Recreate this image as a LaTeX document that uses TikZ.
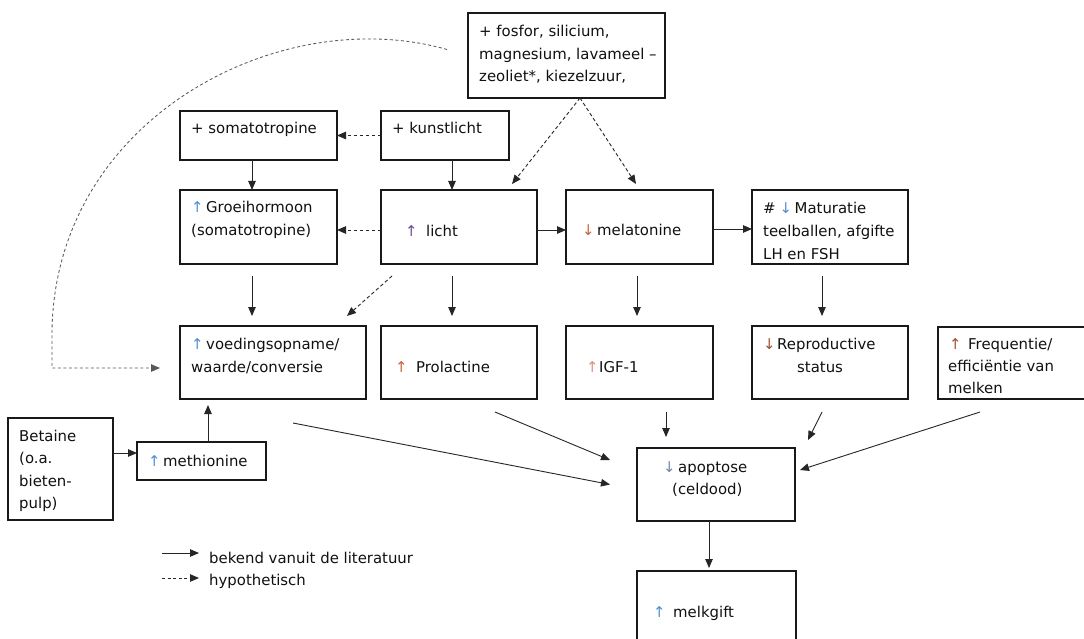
\documentclass[tikz,border=0pt]{standalone}
\usepackage{fontspec}
\setmainfont{DejaVu Sans}
\usetikzlibrary{arrows.meta}
\definecolor{textc}{HTML}{111111}
\definecolor{cblue}{HTML}{4F8FD0}
\definecolor{cpurple}{HTML}{6A4C9C}
\definecolor{corange}{HTML}{C8643C}
\definecolor{cpink}{HTML}{D89080}
\definecolor{cbrown}{HTML}{A0522D}
\definecolor{cslate}{HTML}{6E86B0}
\newcommand\myup[2]{\makebox[#2][l]{\textcolor{#1}{↑}}}
\newcommand\mydn[2]{\makebox[#2][l]{\textcolor{#1}{↓}}}
\begin{document}
\begin{tikzpicture}[x=1pt,y=-1pt,
  box/.style={draw=black!90, line width=1.2pt, inner sep=0pt, outer sep=0pt, anchor=north west},
  txt/.style={anchor=base west, inner sep=0pt, font=\fontsize{14.9}{17}\selectfont, text=textc},
  arr/.style={-{Triangle[length=9pt,width=7.5pt]}, line width=0.9pt, draw=black!85},
  darr/.style={arr, dash pattern=on 3.5pt off 2.5pt},
  carr/.style={arr, draw=black!65, line width=0.85pt, dash pattern=on 3pt off 2.5pt}]
\useasboundingbox (0,0) rectangle (1084,639);
\clip (0,0) rectangle (1084,639);
\fill[white] (0,0) rectangle (1084,639);

% boxes
\node[box, minimum width=197pt, minimum height=85pt] (fos) at (468,13) {};
\node[box, minimum width=157pt, minimum height=49pt] (soma) at (180,111) {};
\node[box, minimum width=128pt, minimum height=49pt] (kunst) at (381,111) {};
\node[box, minimum width=157pt, minimum height=74pt] (groei) at (180,190) {};
\node[box, minimum width=156pt, minimum height=74pt] (licht) at (381,190) {};
\node[box, minimum width=147pt, minimum height=74pt] (mela) at (566,190) {};
\node[box, minimum width=156pt, minimum height=74pt] (matu) at (752,190) {};
\node[box, minimum width=186pt, minimum height=73pt] (voed) at (180,326) {};
\node[box, minimum width=156pt, minimum height=73pt] (prol) at (381,326) {};
\node[box, minimum width=147pt, minimum height=73pt] (igf) at (566,326) {};
\node[box, minimum width=156pt, minimum height=73pt] (repro) at (752,326) {};
\node[box, minimum width=160pt, minimum height=72pt] (freq) at (938,327) {};
\node[box, minimum width=105pt, minimum height=102pt] (bet) at (8,418) {};
\node[box, minimum width=129pt, minimum height=38pt] (meth) at (137,442) {};
\node[box, minimum width=158pt, minimum height=73pt] (apop) at (637,448) {};
\node[box, minimum width=159pt, minimum height=80pt] (melk) at (637,571) {};

% texts
\node[txt] (tf1) at (479,37) {+ fosfor, silicium,};
\node[txt] (tf2) at (479,59.5) {magnesium, lavameel –};
\node[txt] (tf3) at (479,82) {zeoliet*, kiezelzuur,};
\node[txt] (tsoma) at (191,134) {+ somatotropine};
\node[txt] (tkunst) at (392,134) {+ kunstlicht};
\node[txt] (tg1) at (191,213) {\myup{cblue}{15pt}Groeihormoon};
\node[txt] (tg2) at (191,235.5) {(somatotropine)};
\node[txt] (tl) at (405,236.5) {\myup{cpurple}{21pt}licht};
\node[txt] (tm) at (582,236) {\mydn{corange}{15pt}melatonine};
\node[txt] (tma1) at (763,214) {\#\hspace{4pt}\mydn{cblue}{15pt}Maturatie};
\node[txt] (tma2) at (763,236.5) {teelballen, afgifte};
\node[txt] (tma3) at (763,259) {LH en FSH};
\node[txt] (tv1) at (191,349) {\myup{cblue}{15pt}voedingsopname/};
\node[txt] (tv2) at (191,372.5) {waarde/conversie};
\node[txt] (tp) at (395,372.5) {\myup{corange}{21pt}Prolactine};
\node[txt] (ti) at (586,372.5) {\myup{cpink}{13pt}IGF-1};
\node[txt] (tr1) at (763,349) {\mydn{cbrown}{14pt}Reproductive};
\node[txt] (tr2) at (797,372.5) {status};
\node[txt] (tq1) at (949,349) {\myup{cbrown}{19pt}Frequentie/};
\node[txt] (tq2) at (948,371.5) {efficiëntie van};
\node[txt] (tq3) at (948,393) {melken};
\node[txt] (tb1) at (19,441) {Betaine};
\node[txt] (tb2) at (19,463.5) {(o.a.};
\node[txt] (tb3) at (19,486) {bieten-};
\node[txt] (tb4) at (19,508.5) {pulp)};
\node[txt] (tmt) at (148,466) {\myup{cblue}{15pt}methionine};
\node[txt] (ta1) at (663,472) {\mydn{cslate}{15pt}apoptose};
\node[txt] (ta2) at (672,494.5) {(celdood)};
\node[txt] (tmk) at (653,617) {\myup{cblue}{20pt}melkgift};
\node[txt] (tleg1) at (209,563) {bekend vanuit de literatuur};
\node[txt] (tleg2) at (209,585.5) {hypothetisch};

% connectors
\draw[darr] (kunst.west) -- (soma.east);
\draw[arr] ([xshift=7pt]kunst.south) -- ([xshift=7pt]kunst.south |- licht.north);
\draw[arr] ([xshift=-6.5pt]soma.south) -- ([xshift=-6.5pt]soma.south |- groei.north);
\draw[darr] ([yshift=-3pt]licht.west) -- ([yshift=-3pt]licht.west -| groei.east);
\draw[arr] ([yshift=-3pt]licht.east) -- ([yshift=-3pt]licht.east -| mela.west);
\draw[arr] ([yshift=-2pt]mela.east) -- ([yshift=-2pt]mela.east -| matu.west);
\draw[darr] ([xshift=13.5pt]fos.south) -- ([xshift=53pt,yshift=6pt]licht.north);
\draw[darr] ([xshift=13.5pt]fos.south) -- ([xshift=-3.5pt,yshift=6pt]mela.north);
\draw[carr] ([xshift=-21pt,yshift=6pt]fos.west) .. controls (280,2) and (56,118) .. (52,330) -- (52,368) -- ([xshift=-20pt,yshift=-5.5pt]voed.west);
\draw[arr, shorten <=12pt, shorten >=10pt] ([xshift=-6.5pt]groei.south) -- ([xshift=-6.5pt]groei.south |- voed.north);
\draw[darr] ([xshift=11pt,yshift=-12pt]licht.south west) -- ([xshift=-19pt,yshift=10pt]voed.north east);
\draw[arr, shorten <=12pt, shorten >=10pt] ([xshift=-7pt]licht.south) -- ([xshift=-7pt]licht.south |- prol.north);
\draw[arr, shorten <=12pt, shorten >=10pt] ([xshift=-2.5pt]mela.south) -- ([xshift=-2.5pt]mela.south |- igf.north);
\draw[arr, shorten <=12pt, shorten >=10pt] ([xshift=-8pt]matu.south) -- ([xshift=-8pt]matu.south |- repro.north);
\draw[arr, shorten >=6pt] ([xshift=6.5pt]meth.north) -- ([xshift=6.5pt]meth.north |- voed.south);
\draw[arr] ([yshift=8pt]meth.west -| bet.east) -- ([yshift=8pt]meth.west);
\draw[arr] ([xshift=-73pt,yshift=-24pt]voed.south east) -- ([xshift=-27pt]apop.west);
\draw[arr] ([xshift=-42pt,yshift=-13pt]prol.south east) -- ([xshift=-27pt,yshift=-12pt]apop.north west);
\draw[arr, shorten <=13pt, shorten >=11pt] ([xshift=26.5pt]igf.south) -- ([xshift=26.5pt]igf.south |- apop.north);
\draw[arr] ([xshift=-8pt,yshift=-13pt]repro.south) -- ([xshift=13pt,yshift=8pt]apop.north east);
\draw[arr] ([xshift=42pt,yshift=-13pt]freq.south west) -- ([xshift=5pt,yshift=-22pt]apop.north east);
\draw[arr, shorten >=3pt] ([xshift=-7pt]apop.south) -- ([xshift=-7pt]apop.south |- melk.north);

% legend
\coordinate (la1) at (162,553);
\coordinate (lb1) at (199,553);
\coordinate (la2) at (162,578);
\coordinate (lb2) at (199,578);
\draw[arr] (la1) -- (lb1);
\draw[darr, dash pattern=on 3pt off 2.5pt] (la2) -- (lb2);
\end{tikzpicture}
\end{document}
